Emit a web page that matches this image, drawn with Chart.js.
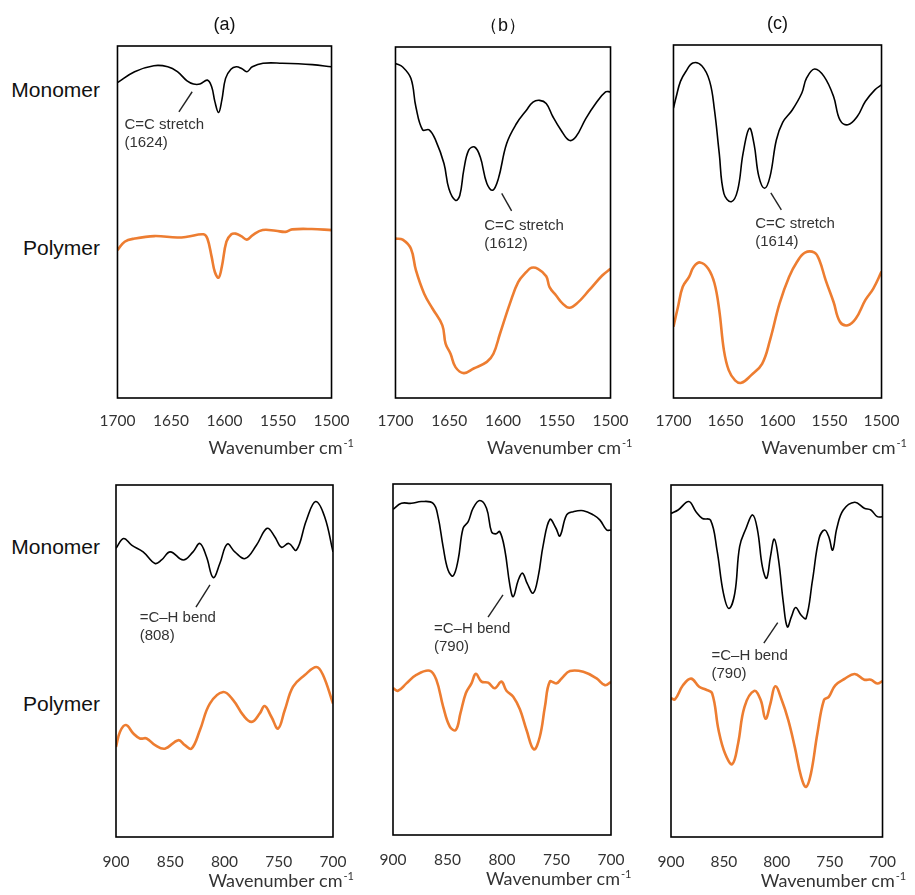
<!DOCTYPE html>
<html>
<head>
<meta charset="utf-8">
<title>FTIR spectra</title>
<script src="https://cdn.jsdelivr.net/npm/chart.js@4.4.0/dist/chart.umd.min.js"></script>
<style>
  html, body { margin: 0; padding: 0; background: #fff; overflow: hidden; }
  #wrap { position: relative; width: 915px; height: 895px; }
  canvas { position: absolute; }
  .lbl { position: absolute; width: 100px; left: 0; text-align: right; font-family: "Liberation Sans", Arial, sans-serif; font-size: 21px; line-height: 1; color: #111; }
</style>
</head>
<body>
<div id="wrap">
  <div class="lbl" style="top:79px">Monomer</div>
  <div class="lbl" style="top:237px">Polymer</div>
  <div class="lbl" style="top:536px">Monomer</div>
  <div class="lbl" style="top:693px">Polymer</div>
  <canvas id="topA" width="277" height="465" style="left:86px;top:0"></canvas>
  <canvas id="topB" width="278" height="465" style="left:364px;top:0"></canvas>
  <canvas id="topC" width="271" height="465" style="left:642px;top:0"></canvas>
  <canvas id="botA" width="277" height="425" style="left:86px;top:470px"></canvas>
  <canvas id="botB" width="278" height="425" style="left:363px;top:470px"></canvas>
  <canvas id="botC" width="271" height="425" style="left:641px;top:470px"></canvas>
</div>
<script>
// ---- data (wavenumber cm-1, relative transmittance) ----
// C=C region, 1700-1500
var monoTopA_x = [1700,1684,1666,1653,1644,1635,1629,1623,1616,1612,1609,1605.5,1602.5,1599,1594,1589,1584,1579,1574,1564,1546,1518,1500];
var monoTopA_y = [89.6,92.7,94.4,94.1,92.7,90.1,89.2,89.2,90.3,88.4,84.2,81.1,84.6,90.8,93.4,94.1,93.6,92.7,94.1,95.1,95.1,94.7,94.1];
var polyTopA_x = [1700,1693.3,1684,1665.6,1644.2,1635,1619.6,1616,1612,1609,1605.5,1602.5,1598.2,1593.6,1589.6,1584.4,1579.1,1573.6,1564.4,1552.1,1543,1536.8,1518.4,1500];
var polyTopA_y = [42.0,44.4,45.3,46.0,45.6,45.8,46.5,45.3,40.1,35.8,34.2,37.3,44.4,46.5,46.7,46.0,45.0,46.3,47.7,47.5,47.2,47.9,48.0,47.7];

var monoTopB_x = [1700,1693.3,1685.6,1681,1674.8,1668.7,1662.6,1654.9,1650.3,1644.2,1640.2,1636.5,1631.9,1626.4,1621.2,1615,1609.5,1604.3,1596.6,1587.4,1578.2,1572.1,1566,1559.8,1553.7,1546,1538.3,1532.2,1523,1513.8,1504.6,1500];
var monoTopB_y = [95.3,94.3,91.0,82.9,76.4,76.4,73.4,66.8,59.6,56.3,57.7,64.9,70.6,71.5,68.7,61.1,59.2,62.5,72.5,78.2,82.0,84.3,84.8,83.9,80.2,76.3,73.4,74.4,79.6,83.9,87.2,87.2];
var polyTopB_x = [1700,1693.3,1685.6,1681,1673.3,1665.6,1656.4,1653.4,1648.8,1644.2,1636.5,1627.3,1615,1608.9,1602.8,1593.6,1585.9,1578.2,1573.6,1567.5,1559.8,1556.7,1550.6,1544.5,1538.3,1530.7,1519.9,1507.7,1500];
var polyTopB_y = [45.4,45.1,42.5,36.4,29.7,25.5,20.7,15.5,12.6,8.8,7.1,8.4,10.3,12.6,18.3,26.9,33.0,35.9,37.1,36.8,34.7,31.6,29.2,26.9,25.7,27.1,30.7,34.9,36.8];

var monoTopC_x = [1700,1697.3,1693.3,1688.1,1681.4,1672.8,1665.2,1660.6,1656,1651.5,1644.4,1638.3,1633.1,1627,1622.4,1617.9,1612.4,1607.2,1601.1,1595,1585.8,1576.6,1572.1,1564.4,1555.3,1546.1,1540,1532.4,1523.2,1515.6,1506.4,1500];
var monoTopC_y = [82.1,85.4,89.7,92.5,94.9,94.1,89.7,81.6,69.3,57.9,55.6,58.9,69.3,76.4,71.7,62.7,59.4,62.7,73.1,78.1,81.6,86.4,90.6,93.2,91.1,85.4,78.8,77.4,79.8,84.0,87.3,88.7];
var polyTopC_x = [1700,1695.7,1691.1,1685,1680.5,1674.4,1666.7,1660.6,1656,1651.5,1646.9,1640.8,1634.7,1625.5,1614.8,1607.2,1598,1588.9,1581.2,1573.6,1564.4,1559.8,1553.7,1546.1,1540,1532.4,1524.7,1515.6,1507.9,1500];
var polyTopC_y = [20.2,25.8,31.5,34.3,37.2,38.4,36.7,32.5,24.9,13.5,7.9,5.0,4.3,6.4,9.7,16.4,26.8,34.3,38.6,41.2,41.2,39.1,33.4,27.2,21.6,20.6,22.5,27.7,31.0,35.8];

// =C-H region, 900-700
var monoBotA_x = [900,893,885.6,875,864,858,850,838,829,822.7,816.6,810.4,804.3,797.5,790.5,781,770.6,760.7,753.7,747.5,740.8,733.7,724.5,716,707.7,700];
var monoBotA_y = [82.0,84.8,82.9,81.0,77.7,78.7,81.0,78.7,81.0,83.4,79.6,73.7,77.7,83.2,81.0,79.1,82.9,87.7,85.3,82.3,83.4,81.5,90.0,95.3,91.0,81.0];
var polyBotA_x = [900,896.3,890.8,884,878,871.8,864,855,842.6,836.5,830.4,822.7,813.5,801.2,792,782.8,775,767.5,763,756.7,750.6,744.5,736.8,726,715.3,709.2,700];
var polyBotA_y = [25.6,29.9,31.8,29.4,28.0,28.0,26.1,25.1,27.5,26.1,25.1,30.3,37.9,41.2,38.9,34.6,32.7,35.1,37.2,34.1,30.8,36.0,42.7,46.0,48.3,46.0,37.9];

var monoBotB_x = [900,892.3,883.2,874,863.2,858.7,854,849.5,844.9,840.3,835.7,831,826.5,820.4,814.2,809.6,805.7,802,797.4,792.8,789.7,785.1,781.2,776.9,771.4,766.8,762.2,756.1,750.5,746.9,740.7,734.6,725.4,716.2,710.1,704,700];
var monoBotB_y = [92.8,94.5,94.5,95.0,94.5,90.7,82.1,75.5,73.8,78.3,87.4,89.3,93.1,95.3,93.1,86.4,85.8,86.4,81.2,71.2,67.9,72.6,74.6,71.7,68.9,73.6,82.6,89.9,87.4,85.2,91.2,92.1,92.4,91.2,89.7,86.9,86.9];
var polyBotB_x = [900,895.4,887.7,878.6,866.3,860.2,854,847.9,842.4,838.1,833.2,828,824,818.8,812.7,806.6,800.5,795.9,789.7,783.6,777.5,770.8,765.3,760.6,756.1,750,745.3,737.7,725.4,713.2,705.5,700];
var polyBotB_y = [41.8,41.1,43.2,45.6,46.8,44.2,36.6,30.9,29.9,34.7,40.4,43.2,45.9,43.7,43.4,41.8,43.7,41.1,39.4,35.8,29.9,24.4,28.0,36.6,43.7,43.2,44.6,46.7,46.5,44.6,42.7,43.6];

var monoBotC_x = [900,893.3,883.2,876.4,870.3,862.6,856.5,850.4,845.2,839.7,835.1,829,822.8,818.2,813.6,809.6,806,802.3,798.3,793.7,790,786.1,782.1,776.9,772.3,766.2,760,754.8,750.8,747.2,743.2,737.1,726.3,717.2,711,704.9,700];
var monoBotC_y = [91.9,92.9,95.3,92.4,90.5,90.0,81.5,69.2,64.9,69.2,82.5,87.7,91.5,87.2,76.8,73.5,79.6,84.6,78.7,66.4,59.7,62.6,65.2,63.0,62.1,73.0,84.8,87.2,85.3,81.5,87.7,92.9,95.1,93.4,92.9,91.0,91.0];
var polyBotC_x = [900,896.3,888.7,881,873.4,867.2,861.1,855,848.9,842.1,836.6,830.5,821.3,815.2,810.6,806,801.4,795.3,789.1,783,776.9,772.3,767.7,761.6,755.4,750.8,744.7,735.5,726.3,717.2,711,704.9,700];
var polyBotC_y = [39.5,39.1,43.1,45.0,42.7,41.9,40.8,30.3,23.7,20.7,26.5,37.0,41.5,38.9,33.6,37.9,42.8,38.9,33.2,25.6,17.1,14.2,18.0,29.4,38.9,39.8,43.1,45.0,46.3,44.7,44.7,43.6,44.3];

// peak labels: [wavenumber, value] for text, leader line start and end
var peakNotes = {
  topA: { text: ['C=C stretch', '(1624)'], at: [1693.5, 77.6], from: [1630.2, 87.0], to: [1642.6, 81.3] },
  topB: { text: ['C=C stretch', '(1612)'], at: [1617.4, 49.0], from: [1601.2, 58.3], to: [1592.0, 53.3] },
  topC: { text: ['C=C stretch', '(1614)'], at: [1621.4, 49.3], from: [1606.4, 58.1], to: [1596.3, 53.3] },
  botA: { text: ['=C\u2013H bend', '(808)'], at: [878.2, 62.2], from: [813.4, 71.6], to: [826.3, 65.3] },
  botB: { text: ['=C\u2013H bend', '(790)'], at: [862.4, 58.7], from: [799.1, 68.4], to: [812.8, 62.1] },
  botC: { text: ['=C\u2013H bend', '(790)'], at: [861.7, 51.5], from: [799.1, 60.9], to: [812.2, 55.1] }
};

function pts(xs, ys) {
  var out = [];
  for (var i in xs) out.push({ x: xs[i], y: ys[i] });
  return out;
}

var panelDeco = {
  id: 'panelDeco',
  afterDraw: function(chart, args, o) {
    var ctx = chart.ctx, a = chart.chartArea;
    var xs = chart.scales.x, ys = chart.scales.y;
    ctx.save();
    // frame
    ctx.strokeStyle = '#000';
    ctx.lineWidth = 1.6;
    ctx.strokeRect(a.left, a.top, a.right - a.left, a.bottom - a.top);
    var cx = (a.left + a.right) / 2;
    // (a) (b) (c)
    if (o.title) {
      ctx.fillStyle = '#111';
      ctx.font = '18px "Liberation Sans", Arial, sans-serif';
      ctx.textAlign = 'center';
      ctx.textBaseline = 'middle';
      ctx.fillText(o.title, cx, a.top - 21);
    }
    // axis title with superscript
    ctx.fillStyle = '#333';
    ctx.font = '18px Lato, sans-serif';
    ctx.textAlign = 'left';
    ctx.textBaseline = 'alphabetic';
    var tx = cx - 16, ty = a.bottom + o.titleGap;
    ctx.fillText('Wavenumber cm', tx, ty);
    var w = ctx.measureText('Wavenumber cm').width;
    ctx.font = '11px Lato, sans-serif';
    ctx.fillText('-1', tx + w + 1, ty - 7);
    // peak note
    var n = o.note;
    if (n) {
      ctx.strokeStyle = '#222';
      ctx.lineWidth = 1.4;
      ctx.beginPath();
      ctx.moveTo(xs.getPixelForValue(n.from[0]), ys.getPixelForValue(n.from[1]));
      ctx.lineTo(xs.getPixelForValue(n.to[0]), ys.getPixelForValue(n.to[1]));
      ctx.stroke();
      ctx.fillStyle = '#333';
      ctx.font = '15px "Liberation Sans", Arial, sans-serif';
      ctx.textBaseline = 'middle';
      var px = xs.getPixelForValue(n.at[0]), py = ys.getPixelForValue(n.at[1]);
      for (var i = 0; i < n.text.length; i++) ctx.fillText(n.text[i], px, py + i * 18);
    }
    ctx.restore();
  }
};

function makePanel(id, mx, my, px, py, xmin, xmax, p) {
  return new Chart(document.getElementById(id), {
    type: 'line',
    data: {
      datasets: [
        { label: 'Monomer', data: pts(mx, my), borderColor: '#000', borderWidth: 1.6, pointRadius: 0, tension: 0.4, fill: false },
        { label: 'Polymer', data: pts(px, py), borderColor: '#ED7D31', borderWidth: 2.6, pointRadius: 0, tension: 0.4, fill: false }
      ]
    },
    options: {
      responsive: false,
      animation: false,
      devicePixelRatio: 1,
      layout: { padding: { top: p.top, left: 30, right: p.right, bottom: 0 } },
      plugins: {
        legend: { display: false },
        tooltip: { enabled: false },
        panelDeco: { title: p.title, titleGap: p.titleGap, note: peakNotes[id] }
      },
      scales: {
        x: {
          type: 'linear', reverse: true, min: xmin, max: xmax,
          grid: { display: false, drawTicks: false },
          border: { display: false },
          ticks: { stepSize: 50, padding: p.tickPad, color: '#333', maxRotation: 0, autoSkip: false,
                   font: { family: 'Lato', size: 15.5 },
                   callback: function(v) { return String(v); } },
          afterFit: function(s) { s.height = p.axisH; }
        },
        y: { display: false, min: 0, max: 100 }
      }
    },
    plugins: [panelDeco]
  });
}

function drawAll() {
  makePanel('topA', monoTopA_x, monoTopA_y, polyTopA_x, polyTopA_y, 1500, 1700, { title: '(a)', top: 46, right: 30, axisH: 67, tickPad: 13.5, titleGap: 56 });
  makePanel('topB', monoTopB_x, monoTopB_y, polyTopB_x, polyTopB_y, 1500, 1700, { title: '\uFF08b\uFF09', top: 47, right: 30, axisH: 67, tickPad: 13.5, titleGap: 56 });
  makePanel('topC', monoTopC_x, monoTopC_y, polyTopC_x, polyTopC_y, 1500, 1700, { title: '(c)', top: 45, right: 23, axisH: 67, tickPad: 13.5, titleGap: 56 });
  makePanel('botA', monoBotA_x, monoBotA_y, polyBotA_x, polyBotA_y, 700, 900, { top: 15, right: 30, axisH: 58, tickPad: 16, titleGap: 50 });
  makePanel('botB', monoBotB_x, monoBotB_y, polyBotB_x, polyBotB_y, 700, 900, { top: 14, right: 30, axisH: 60, tickPad: 16, titleGap: 50 });
  makePanel('botC', monoBotC_x, monoBotC_y, polyBotC_x, polyBotC_y, 700, 900, { top: 15, right: 23, axisH: 58, tickPad: 16, titleGap: 50 });
}

Promise.all([
  document.fonts.load('15px Lato'),
  document.fonts.load('15px "Liberation Sans"')
]).then(drawAll, drawAll);
</script>
</body>
</html>
